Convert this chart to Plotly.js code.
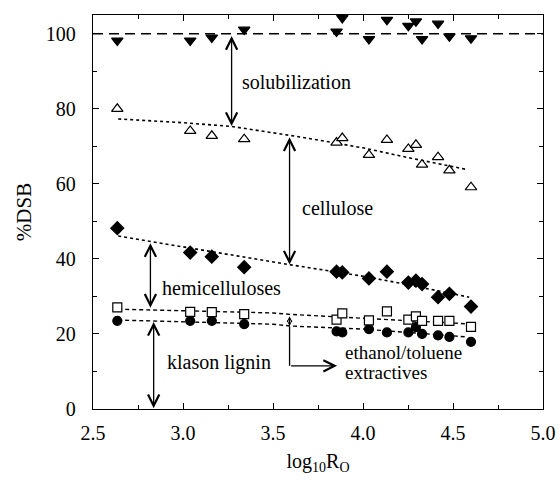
<!DOCTYPE html>
<html>
<head>
<meta charset="utf-8">
<script src="https://cdn.plot.ly/plotly-3.0.1.min.js"></script>
<style>html,body{margin:0;padding:0;background:#fff;}</style>
</head>
<body>
<div id="chart" style="width:560px;height:482px;"></div>
<script>
// log10 R0 (severity) for each pretreatment run
const logR0 = [2.635, 3.04, 3.16, 3.34, 3.853, 3.885, 4.033, 4.133, 4.252, 4.294, 4.328, 4.417, 4.48, 4.6];
// %DSB values
const totalRecovered = [98.2, 98.2, 99.0, 101.1, 100.6, 104.2, 98.6, 103.7, 102.1, 103.3, 98.6, 102.7, 99.3, 98.8];
const celluloseCum   = [80.0, 74.1, 72.8, 71.9, 71.0, 72.2, 67.7, 71.7, 69.3, 70.4, 65.1, 67.1, 63.6, 59.1];
const hemiCum        = [48.2, 41.7, 40.6, 37.8, 36.6, 36.4, 34.8, 36.6, 33.7, 34.2, 33.3, 29.8, 30.7, 27.3];
const extractCum     = [27.1, 25.9, 25.8, 25.3, 23.8, 25.5, 23.6, 26.0, 23.8, 24.7, 23.5, 23.5, 23.5, 21.9];
const ligninCum      = [23.5, 23.5, 23.5, 22.6, 20.7, 20.4, 21.3, 20.4, 20.4, 21.8, 20.0, 19.6, 19.2, 17.9];

// fitted trend curves
const fitCelX = [2.64, 3.0, 3.27, 3.65, 4.0, 4.25, 4.58];
const fitCelY = [77.3, 76.3, 75.3, 72.5, 69.6, 67.0, 63.8];
const fitHemX = [2.64, 2.82, 3.3, 3.6, 4.0, 4.21, 4.59];
const fitHemY = [46.1, 44.6, 40.8, 38.4, 35.4, 33.5, 29.8];
const fitExtX = [2.64, 3.5, 3.6, 4.0, 4.58];
const fitExtY = [26.6, 25.6, 25.2, 24.1, 22.7];
const fitLigX = [2.64, 3.5, 3.6, 4.0, 4.58];
const fitLigY = [23.7, 22.6, 22.1, 21.3, 19.2];

const xTicks = [2.5, 3.0, 3.5, 4.0, 4.5, 5.0];
const xTickText = ['2.5', '3.0', '3.5', '4.0', '4.5', '5.0'];
const yTicks = [0, 20, 40, 60, 80, 100];

const FONT = 'Liberation Serif';
const mk = (sym, fill, size) => ({symbol: sym, size: size, color: fill, line: {color: '#000', width: 1.2}});

const traces = [
  {x: fitCelX, y: fitCelY, mode: 'lines', line: {color: '#000', width: 1.6, dash: 'dot'}, hoverinfo: 'skip'},
  {x: fitHemX, y: fitHemY, mode: 'lines', line: {color: '#000', width: 1.6, dash: 'dot'}, hoverinfo: 'skip'},
  {x: fitExtX, y: fitExtY, mode: 'lines', line: {color: '#000', width: 1.4, dash: '4px,3px'}, hoverinfo: 'skip'},
  {x: fitLigX, y: fitLigY, mode: 'lines', line: {color: '#000', width: 1.4, dash: '4px,3px'}, hoverinfo: 'skip'},
  {x: logR0, y: totalRecovered, mode: 'markers', marker: mk('triangle-down', '#000', 10)},
  {x: logR0, y: celluloseCum, mode: 'markers', marker: mk('triangle-up', '#fff', 10)},
  {x: logR0, y: hemiCum, mode: 'markers', marker: mk('diamond', '#000', 10)},
  {x: logR0, y: ligninCum, mode: 'markers', marker: mk('circle', '#000', 9)},
  {x: logR0, y: extractCum, mode: 'markers', marker: mk('square', '#fff', 9)}
];

const arr = (x, y0, y1, size) => ({
  x: x, y: y1, ax: x, ay: y0, xref: 'x', yref: 'y', axref: 'x', ayref: 'y',
  showarrow: true, arrowhead: 5, startarrowhead: 5, arrowside: 'end+start',
  arrowsize: size || 1.7, startarrowsize: size || 1.7, arrowwidth: 1.3, arrowcolor: '#000', text: ''
});
const lbl = (x, y, t, s) => ({x: x, y: y, xref: 'x', yref: 'y', text: t, showarrow: false,
  xanchor: 'left', yanchor: 'middle', font: {family: FONT, size: s || 20, color: '#000'}});

const annotations = [
  arr(3.27, 99.8, 75.4),
  arr(3.592, 72.8, 38.5),
  arr(2.819, 44.6, 27.0),
  arr(2.837, 23.6, 0.2),
  arr(3.592, 25.1, 22.1, 0.7),
  {x: 3.856, y: 11.5, ax: 3.592, ay: 11.5, xref: 'x', yref: 'y', axref: 'x', ayref: 'y',
   showarrow: true, arrowhead: 5, arrowsize: 1.7, arrowwidth: 1.3, arrowcolor: '#000', text: ''},
  lbl(3.318, 87.2, 'solubilization'),
  lbl(3.652, 53.6, 'cellulose'),
  lbl(2.874, 32.3, 'hemicelluloses'),
  lbl(2.90, 12.3, 'klason lignin'),
  lbl(3.89, 15.1, 'ethanol/toluene', 19),
  lbl(3.89, 9.8, 'extractives', 19)
];

const shapes = [
  {type: 'line', xref: 'paper', x0: 0, x1: 1, yref: 'y', y0: 100, y1: 100,
   line: {color: '#000', width: 1.3, dash: '10px,6px'}},
  {type: 'line', xref: 'x', x0: 3.592, x1: 3.592, yref: 'y', y0: 22.0, y1: 11.5,
   line: {color: '#000', width: 1.3}}
];

const axisCommon = {
  showline: true, linecolor: '#000', linewidth: 1.2, mirror: 'allticks',
  ticks: 'inside', ticklen: 6, tickwidth: 1, tickcolor: '#000',
  showgrid: false, zeroline: false,
  tickfont: {family: FONT, size: 20, color: '#000'}
};

const layout = {
  width: 560, height: 482,
  margin: {l: 93, r: 17, t: 15, b: 73},
  paper_bgcolor: '#fff', plot_bgcolor: '#fff',
  showlegend: false,
  font: {family: FONT, color: '#000'},
  xaxis: Object.assign({}, axisCommon, {
    range: [2.5, 5.0], tickvals: xTicks, ticktext: xTickText, ticklabelstandoff: 6,
    minor: {dtick: 0.25, tick0: 2.5, ticks: 'inside', ticklen: 4, tickcolor: '#000'},
    title: {text: 'log<sub>10</sub>R<sub>O</sub>', font: {family: FONT, size: 20, color: '#000'}, standoff: 10}
  }),
  yaxis: Object.assign({}, axisCommon, {
    range: [0, 105], tickvals: yTicks, ticklabelstandoff: 12,
    minor: {dtick: 10, tick0: 0, ticks: 'inside', ticklen: 4, tickcolor: '#000'},
    title: {text: '%DSB', font: {family: FONT, size: 21, color: '#000'}, standoff: 8}
  }),
  annotations: annotations,
  shapes: shapes
};

Plotly.newPlot('chart', traces, layout, {displayModeBar: false, staticPlot: true});
</script>
</body>
</html>
